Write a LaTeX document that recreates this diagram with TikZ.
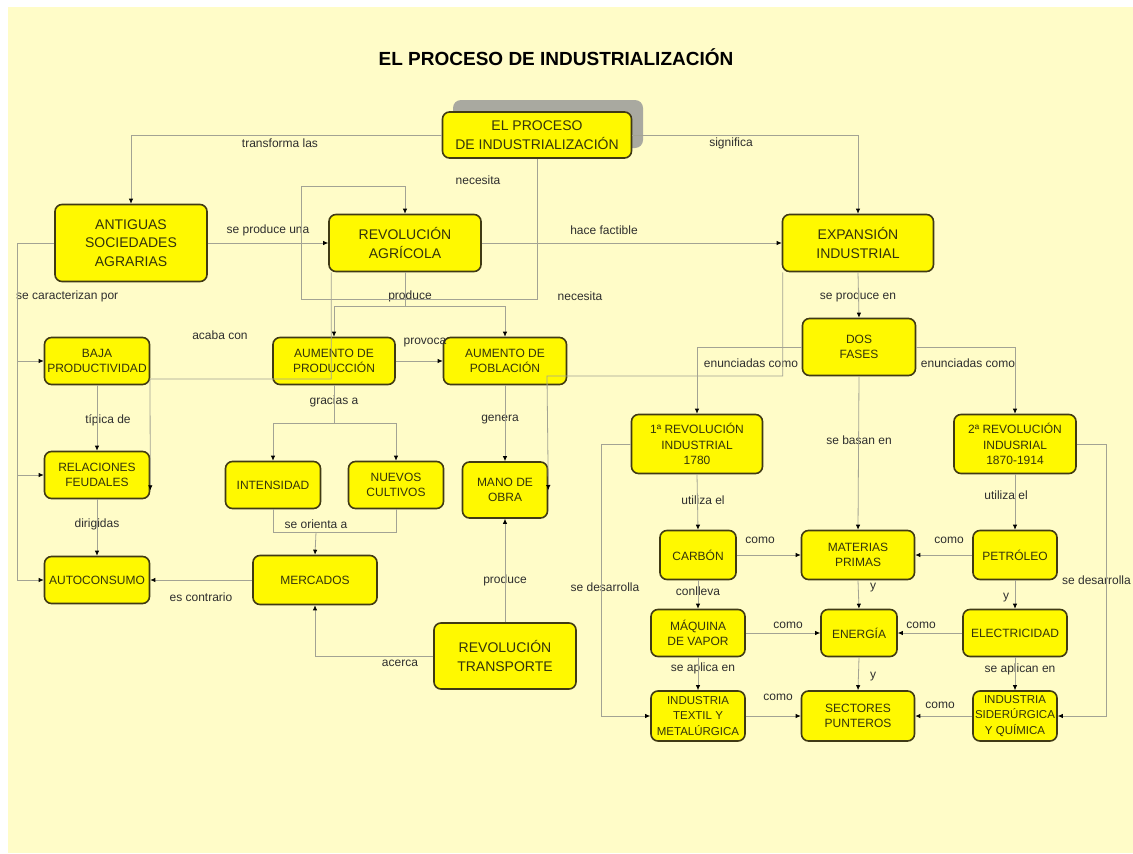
\documentclass[tikz,border=0pt]{standalone}
\usepackage{fontspec}
\setmainfont{Liberation Sans}
\usetikzlibrary{arrows.meta,positioning}

\definecolor{mapbg}{HTML}{FFFCC8}
\definecolor{boxfill}{HTML}{FFF900}
\definecolor{boxline}{HTML}{403A14}
\definecolor{boxtext}{HTML}{34340C}
\definecolor{linkgray}{HTML}{A3A394}
\definecolor{lbltext}{HTML}{2E2E2E}
\definecolor{shadowgray}{HTML}{A9A9A0}

\begin{document}
\begin{tikzpicture}[x=1pt, y=-1pt,
    concept/.style={draw=boxline, fill=boxfill, rounded corners=7pt, line width=1.6pt, align=center,
        inner sep=1pt, text=boxtext, font=\fontsize{12}{15.5}\selectfont},
    bigconcept/.style={concept, font=\fontsize{14}{18.5}\selectfont},
    link/.style={text=lbltext, inner sep=1pt, font=\fontsize{12}{13}\selectfont},
    conn/.style={draw=linkgray, line width=0.8pt},
    arr/.style={conn, -{Latex[length=5pt, width=4.5pt, color=black]}}
]
\useasboundingbox (0,0) rectangle (1133,854);
\fill[mapbg] (8,7) rectangle (1133,853);

\node[font=\bfseries\fontsize{19}{22}\selectfont] (title) at (556,57) {EL PROCESO DE INDUSTRIALIZACIÓN};

\fill[shadowgray, rounded corners=8pt] (453,100) rectangle (643,148);

\node[bigconcept, minimum width=189, minimum height=46] (proc) at (537,135) {EL PROCESO\\DE INDUSTRIALIZACIÓN};
\node[bigconcept, minimum width=152, minimum height=77] (ant) at (131,243) {ANTIGUAS\\SOCIEDADES\\AGRARIAS};
\node[bigconcept, minimum width=152, minimum height=57] (ra) at (405,243) {REVOLUCIÓN\\AGRÍCOLA};
\node[bigconcept, minimum width=151, minimum height=57] (exp) at (858,243) {EXPANSIÓN\\INDUSTRIAL};
\node[concept, minimum width=113, minimum height=57] (dos) at (859,347) {DOS\\FASES};
\node[concept, minimum width=105, minimum height=47] (baja) at (97,361) {BAJA\\PRODUCTIVIDAD};
\node[concept, minimum width=105, minimum height=47] (rel) at (97,475) {RELACIONES\\FEUDALES};
\node[concept, minimum width=105, minimum height=47] (aut) at (97,580) {AUTOCONSUMO};
\node[concept, minimum width=122, minimum height=47] (aprod) at (334,361) {AUMENTO DE\\PRODUCCIÓN};
\node[concept, minimum width=123, minimum height=47] (apob) at (505,361) {AUMENTO DE\\POBLACIÓN};
\node[concept, minimum width=95, minimum height=47] (int) at (273,485) {INTENSIDAD};
\node[concept, minimum width=95, minimum height=47] (nue) at (396,485) {NUEVOS\\CULTIVOS};
\node[concept, minimum width=124, minimum height=49] (mer) at (315,580) {MERCADOS};
\node[concept, minimum width=85, minimum height=56] (mano) at (505,490) {MANO DE\\OBRA};
\node[bigconcept, minimum width=142, minimum height=66] (rt) at (505,656) {REVOLUCIÓN\\TRANSPORTE};
\node[concept, minimum width=131, minimum height=59] (rev1) at (697,444) {1ª REVOLUCIÓN\\INDUSTRIAL\\1780};
\node[concept, minimum width=122, minimum height=59] (rev2) at (1015,444) {2ª REVOLUCIÓN\\INDUSRIAL\\1870-1914};
\node[concept, minimum width=76, minimum height=49] (car) at (698,555) {CARBÓN};
\node[concept, minimum width=113, minimum height=49] (mat) at (858,555) {MATERIAS\\PRIMAS};
\node[concept, minimum width=84, minimum height=49] (pet) at (1015,555) {PETRÓLEO};
\node[concept, minimum width=94, minimum height=47] (maq) at (698,633) {MÁQUINA\\DE VAPOR};
\node[concept, minimum width=76, minimum height=47] (ene) at (859,633) {ENERGÍA};
\node[concept, minimum width=104, minimum height=47] (ele) at (1015,633) {ELECTRICIDAD};
\node[concept, minimum width=94, minimum height=50, font=\fontsize{11.5}{15.5}\selectfont] (tex) at (698,716) {INDUSTRIA\\TEXTIL Y\\METALÚRGICA};
\node[concept, minimum width=113, minimum height=50] (sec) at (858,716) {SECTORES\\PUNTEROS};
\node[concept, minimum width=84, minimum height=50, font=\fontsize{11.5}{15.5}\selectfont] (sid) at (1015,716) {INDUSTRIA\\SIDERÚRGICA\\Y QUÍMICA};

\node[link] (l-transforma) at (280,143) {transforma las};
\node[link] (l-significa) at (731,143) {significa};
\node[link] (l-necesita1) at (478,180) {necesita};
\node[link] (l-seproduceuna) at (268,230) {se produce una};
\node[link] (l-hacefactible) at (604,230) {hace factible};
\node[link, anchor=west] (l-caracterizan) at (15,296) {se caracterizan por};
\node[link] (l-produce1) at (410,296) {produce};
\node[link] (l-necesita2) at (580,296) {necesita};
\node[link] (l-seproduceen) at (858,296) {se produce en};
\node[link] (l-acaba) at (220,335) {acaba con};
\node[link] (l-provoca) at (425,343) {provoca};
\node[link] (l-enunc1) at (751,363) {enunciadas como};
\node[link] (l-enunc2) at (968,363) {enunciadas como};
\node[link] (l-gracias) at (334,401) {gracias a};
\node[link] (l-tipica) at (108,420) {típica de};
\node[link] (l-genera) at (500,420) {genera};
\node[link] (l-basan) at (859,440) {se basan en};
\node[link] (l-utiliza1) at (703,500) {utiliza el};
\node[link] (l-utiliza2) at (1006,495) {utiliza el};
\node[link] (l-orienta) at (316,524) {se orienta a};
\node[link] (l-dirigidas) at (97,524) {dirigidas};
\node[link] (l-como1) at (760,540) {como};
\node[link] (l-como2) at (949,540) {como};
\node[link] (l-desarrolla1) at (605,587) {se desarrolla};
\node[link] (l-produce2) at (505,580) {produce};
\node[link, anchor=east] (l-desarrolla2) at (1132,580) {se desarrolla};
\node[link] (l-y1) at (873,588) {y};
\node[link] (l-conlleva) at (698,591) {conlleva};
\node[link] (l-contrario) at (201,597) {es contrario};
\node[link] (l-y2) at (1006,598) {y};
\node[link] (l-como3) at (788,625) {como};
\node[link] (l-como4) at (921,625) {como};
\node[link] (l-acerca) at (400,663) {acerca};
\node[link] (l-aplica) at (703,668) {se aplica en};
\node[link] (l-y3) at (873,677) {y};
\node[link] (l-aplican) at (1020,669) {se aplican en};
\node[link] (l-como5) at (778,697) {como};
\node[link] (l-como6) at (940,705) {como};

\coordinate (carac) at (17,243);
\coordinate (nec) at (537,299);
\coordinate (prod) at (405,306);
\coordinate (grac) at (334,423);
\coordinate (orie) at (316,532);
\coordinate (acab) at (150,379);
\coordinate (manob) at (547,376);

\draw[arr] (proc.west) -| (ant.north);
\draw[arr] (proc.east) -| (exp.north);
\draw[arr] (proc.south) -- (nec) -| (301,186) -| (ra.north);
\draw[arr] (ant.east) -- (ra.west);
\draw[arr] (ra.east) -- (exp.west);
\draw[arr] (ant.west) -- (carac) |- (aut.west);
\draw[arr] (carac |- baja.west) -- (baja.west);
\draw[arr] (carac |- rel.west) -- (rel.west);
\draw[arr] (baja.south) -- (rel.north);
\draw[arr] (rel.south) -- (aut.north);
\draw[arr] ([xshift=3pt]ra.south west) |- (acab) -- ([yshift=9pt]rel.south east);
\draw[arr] (ra.south) -- (prod) -| (aprod.north);
\draw[arr] (prod) -| (apob.north);
\draw[arr] (aprod.east) -- (apob.west);
\draw[arr] (aprod.south) -- (grac) -| (int.north);
\draw[arr] (grac) -| (nue.north);
\draw[conn] (int.south) |- (orie);
\draw[conn] (nue.south) |- (orie);
\draw[arr] (orie) -- (mer.north);
\draw[arr] (mer.west) -- (aut.east);
\draw[arr] (rt.west) -| (mer.south);
\draw[arr] (rt.north) -- (mano.south);
\draw[arr] (apob.south) -- (mano.north);
\draw[arr] ([xshift=1pt]exp.south west) |- (manob) -- (mano.east);
\draw[arr] (exp.south) -- (dos.north);
\draw[arr] (dos.west) -| (rev1.north);
\draw[arr] (dos.east) -| (rev2.north);
\draw[arr] (dos.south) -- (mat.north);
\draw[arr] (rev1.south) -- (car.north);
\draw[arr] (rev2.south) -- (pet.north);
\draw[arr] (car.east) -- (mat.west);
\draw[arr] (pet.west) -- (mat.east);
\draw[arr] (car.south) -- (maq.north);
\draw[arr] (pet.south) -- (ele.north);
\draw[arr] (mat.south) -- (ene.north);
\draw[arr] (maq.east) -- (ene.west);
\draw[arr] (ele.west) -- (ene.east);
\draw[arr] (maq.south) -- (tex.north);
\draw[arr] (ele.south) -- (sid.north);
\draw[arr] (ene.south) -- (sec.north);
\draw[arr] (tex.east) -- (sec.west);
\draw[arr] (sid.west) -- (sec.east);
\draw[arr] (rev1.west) -- ++(-29,0) |- (tex.west);
\draw[arr] (rev2.east) -- ++(30,0) |- (sid.east);
\end{tikzpicture}
\end{document}
